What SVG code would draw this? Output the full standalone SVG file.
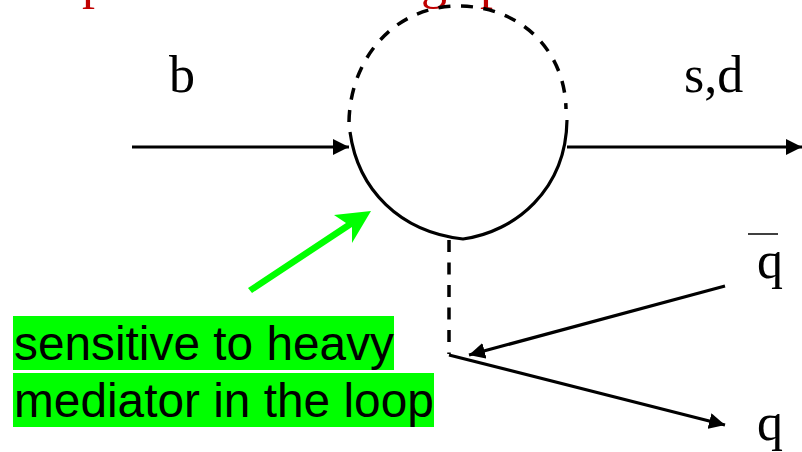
<svg xmlns="http://www.w3.org/2000/svg" width="802" height="452" viewBox="0 0 802 452">
<style>
.l{fill:none;stroke:#000;stroke-width:3.2}
.v{stroke-dasharray:12 10.5;stroke-width:3.5}
.s{font-family:"Liberation Serif",serif;font-size:52px;fill:#000}
.r{font-family:"Liberation Serif",serif;font-size:52px;fill:#c00000}
.a{font-family:"Liberation Sans",Arial,sans-serif;font-size:47.8px;fill:#000}
</style>
<defs>
<marker id="ah" markerUnits="userSpaceOnUse" markerWidth="20" markerHeight="16" refX="16" refY="8" orient="auto"><path d="M0 0L16 8L0 16Z" fill="#000"/></marker>
</defs>
<rect width="802" height="452" fill="#fff"/>
<g id="cutoff-title">
<text class="r" x="82" y="-2">p</text>
<text class="r" x="421" y="-2">g</text>
<text class="r" x="480" y="-2">p</text>
</g>
<g id="connectors">
<path class="l v" d="M349 122C350 58 395 6 458 6C520 6 565 50 566 109"/>
<path class="l" d="M350 132C358 190 400 232 463 239C515 232 566 190 567 120"/>
<path class="l" d="M132 147H349" marker-end="url(#ah)"/>
<path class="l" d="M567 147H802" marker-end="url(#ah)"/>
<path class="l v" d="M449 240V354"/>
<path class="l" d="M449 355L725 425" marker-end="url(#ah)"/>
<path class="l" d="M725 286L469 355" marker-end="url(#ah)"/>
<path d="M248 288L346 223L334 215L371 211L352 243L352 227L252 293Z" fill="#00ff00"/>
<path d="M748 234H778" stroke="#000" stroke-width="1.5"/>
</g>
<g id="label-b"><text class="s" x="169" y="92">b</text></g>
<g id="label-sd"><text class="s" x="684" y="92">s,d</text></g>
<g id="label-qbar"><text class="s" x="757" y="278">q</text></g>
<g id="label-q"><text class="s" x="757" y="440">q</text></g>
<g id="note">
<rect x="13" y="316" width="381" height="54" fill="#00ff00"/>
<rect x="13" y="373" width="421" height="54" fill="#00ff00"/>
<text class="a" x="14" y="360">sensitive to heavy</text>
<text class="a" x="14" y="417">mediator in the loop</text>
</g>
</svg>
